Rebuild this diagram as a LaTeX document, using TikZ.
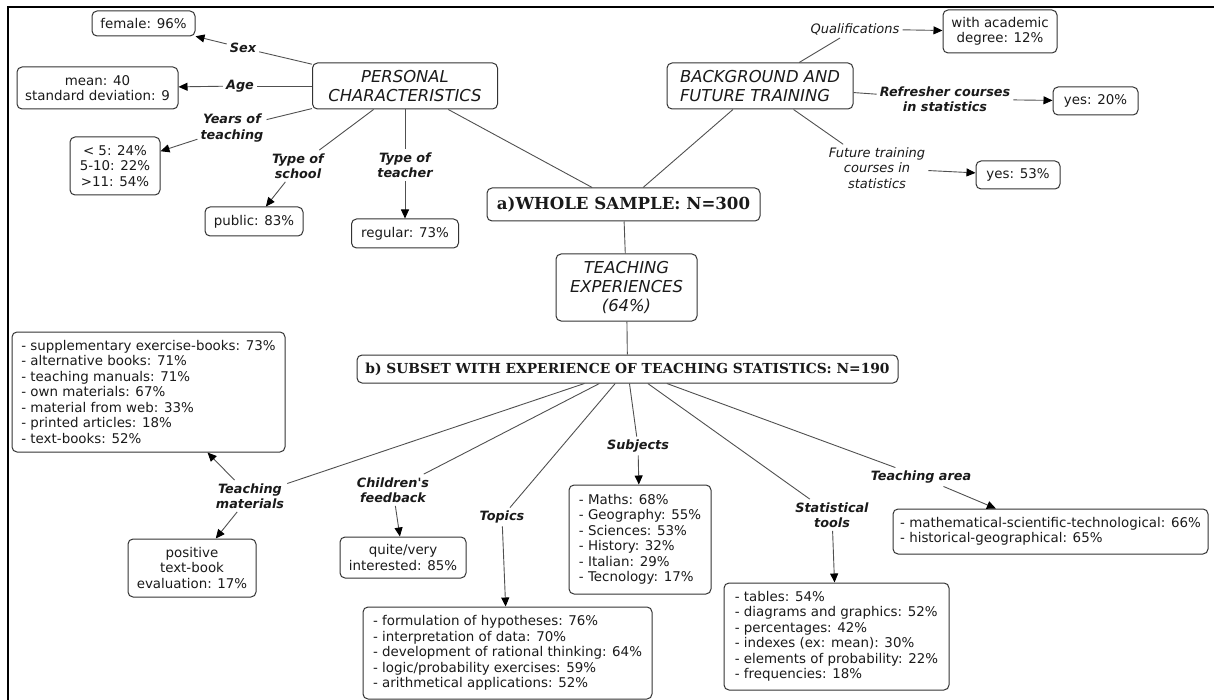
\documentclass[tikz,border=0pt]{standalone}
\usepackage{fontspec}
\setmainfont{DejaVu Sans}
\newfontfamily\titlefont{DejaVu Serif}
\usetikzlibrary{arrows.meta}
\definecolor{boxgray}{HTML}{333333}
\definecolor{linegray}{HTML}{505050}
\definecolor{txt}{HTML}{1A1A1A}

\begin{document}
\begin{tikzpicture}[x=1pt,y=-1pt,
	box/.style={draw=boxgray, rounded corners=5pt, line width=1pt, inner sep=3pt, text=txt,
		font=\fontsize{13.4}{15.5}\selectfont, align=center},
	listbox/.style={box, align=left},
	head/.style={box, font=\fontsize{16.4}{19}\selectfont\itshape},
	title/.style={box, font=\titlefont\bfseries\fontsize{16.6}{19}\selectfont},
	lab/.style={inner sep=3pt, text=txt, font=\fontsize{12.8}{15.5}\selectfont\bfseries\itshape, align=center},
	lablight/.style={lab, font=\fontsize{13}{15.5}\selectfont\itshape},
	lnk/.style={draw=linegray, line width=0.9pt},
	arr/.style={lnk, -{Triangle[length=9pt,width=8pt,color=black]}}]
	\useasboundingbox (0,0) rectangle (1214,700);
	% frame
	\draw[line width=2pt] (8,700) -- (8,7.5) -- (1214,7.5);
	
	% Main boxes
	\node[title, minimum width=273pt, minimum height=33pt] (whole) at (623.5,204.5) {a)WHOLE SAMPLE: N=300};
	\node[head, minimum width=185pt, minimum height=46pt] (pers) at (405,86) {PERSONAL\\CHARACTERISTICS};
	\node[head, align=left, minimum width=186pt, minimum height=46pt] (backgr) at (760,86) {BACKGROUND AND\\FUTURE TRAINING};
	\node[head, minimum width=141pt, minimum height=67pt] (teachexp) at (626.5,287.5) {TEACHING\\EXPERIENCES\\(64\%)};
	\node[title, font=\titlefont\bfseries\fontsize{13.8}{16}\selectfont, minimum width=541pt, minimum height=28pt] (subset) at (627.5,369) {b) SUBSET WITH EXPERIENCE OF TEACHING STATISTICS: N=190};
	
	% Personal characteristics
	\node[box, minimum width=103pt, minimum height=25pt] (female) at (143.5,23.5) {female: 96\%};
	\node[box, minimum width=161pt, minimum height=42pt] (mean) at (97.5,88) {mean: 40\\standard deviation: 9};
	\node[box, minimum width=90pt, minimum height=58pt] (years) at (115,166) {< 5: 24\%\\5-10: 22\%\\>11: 54\%};
	\node[box, minimum width=98pt, minimum height=29pt] (public) at (254,221.5) {public: 83\%};
	\node[box, minimum width=107pt, minimum height=29pt] (regular) at (405,233.5) {regular: 73\%};
	\node[lab] (lsex) at (243,48) {Sex};
	\node[lab] (lage) at (240,86) {Age};
	\node[lab] (lyears) at (232,128) {Years of\\teaching};
	\node[lab] (lschool) at (298,166) {Type of\\school};
	\node[lab] (lteacher) at (405,165) {Type of\\teacher};
	
	% Background and training
	\node[box, minimum width=114pt, minimum height=43pt] (degree) at (1000,31.5) {with academic\\degree: 12\%};
	\node[box, minimum width=85pt, minimum height=28pt] (yesref) at (1095.5,101) {yes: 20\%};
	\node[box, minimum width=84pt, minimum height=28pt] (yesfut) at (1018,175) {yes: 53\%};
	\node[lablight] (lqual) at (855,29) {Qualifications};
	\node[lab] (lrefr) at (945,99) {Refresher courses\\in statistics};
	\node[lablight] (lfut) at (877,168) {Future training\\courses in\\statistics};
	
	% Subset with experience
	\node[listbox, minimum width=273pt, minimum height=120pt] (materials) at (148.5,392) {- supplementary exercise-books: 73\%\\- alternative books: 71\%\\- teaching manuals: 71\%\\- own materials: 67\%\\- material from web: 33\%\\- printed articles: 18\%\\- text-books: 52\%};
	\node[box, minimum width=128pt, minimum height=58pt] (positive) at (192,568) {positive\\text-book\\evaluation: 17\%};
	\node[box, minimum width=126pt, minimum height=41pt] (interest) at (403,557.5) {quite/very\\interested: 85\%};
	\node[listbox, minimum width=142pt, minimum height=109pt] (subjects) at (640,539.5) {- Maths: 68\%\\- Geography: 55\%\\- Sciences: 53\%\\- History: 32\%\\- Italian: 29\%\\- Tecnology: 17\%};
	\node[listbox, minimum width=289pt, minimum height=92pt] (topics) at (507.5,653) {- formulation of hypotheses: 76\%\\- interpretation of data: 70\%\\- development of rational thinking: 64\%\\- logic/probability exercises: 59\%\\- arithmetical applications: 52\%};
	\node[listbox, minimum width=225pt, minimum height=107pt] (tools) at (836.5,636.5) {- tables: 54\%\\- diagrams and graphics: 52\%\\- percentages: 42\%\\- indexes (ex: mean): 30\%\\- elements of probability: 22\%\\- frequencies: 18\%};
	\node[listbox, minimum width=315pt, minimum height=45pt] (area) at (1050.5,531.5) {- mathematical-scientific-technological: 66\%\\- historical-geographical: 65\%};
	\node[lab] (lmat) at (250,496) {Teaching\\materials};
	\node[lab] (lfeed) at (393,490) {Children\textquotesingle s\\feedback};
	\node[lab] (ltop) at (502,517) {Topics};
	\node[lab] (lsubj) at (638,446) {Subjects};
	\node[lab] (ltools) at (832,515) {Statistical\\tools};
	\node[lab] (larea) at (921,477) {Teaching area};
	
	% Connectors
	\draw[lnk] (pers) -- (whole);
	\draw[lnk] (backgr) -- (whole);
	\draw[lnk] (whole) -- (teachexp);
	\draw[lnk] (teachexp) -- (subset);
	
	\draw[lnk] (pers) -- (lsex);  \draw[arr] (lsex) -- (female);
	\draw[lnk] (pers) -- (lage);  \draw[arr] (lage) -- (mean);
	\draw[lnk] (pers) -- (lyears);  \draw[arr] (lyears) -- (years);
	\draw[lnk] (pers) -- (lschool);  \draw[arr] (lschool) -- (public);
	\draw[lnk] (pers) -- (lteacher);  \draw[arr] (lteacher) -- (regular);
	
	\draw[lnk] (backgr) -- (lqual);  \draw[arr] (lqual) -- (degree);
	\draw[lnk] (backgr) -- (lrefr);  \draw[arr] (lrefr) -- (yesref);
	\draw[lnk] (backgr) -- (lfut);  \draw[arr] (lfut) -- (yesfut);
	
	\draw[lnk] (subset) -- (lmat);  \draw[arr] (lmat) -- (materials);  \draw[arr] (lmat) -- (positive);
	\draw[lnk] (subset) -- (lfeed);  \draw[arr] (lfeed) -- (interest);
	\draw[lnk] (subset) -- (ltop);  \draw[arr] (ltop) -- (topics);
	\draw[lnk] (subset) -- (lsubj);  \draw[arr] (lsubj) -- (subjects);
	\draw[lnk] (subset) -- (ltools);  \draw[arr] (ltools) -- (tools);
	\draw[lnk] (subset) -- (larea);  \draw[arr] (larea) -- (area);
\end{tikzpicture}
\end{document}
